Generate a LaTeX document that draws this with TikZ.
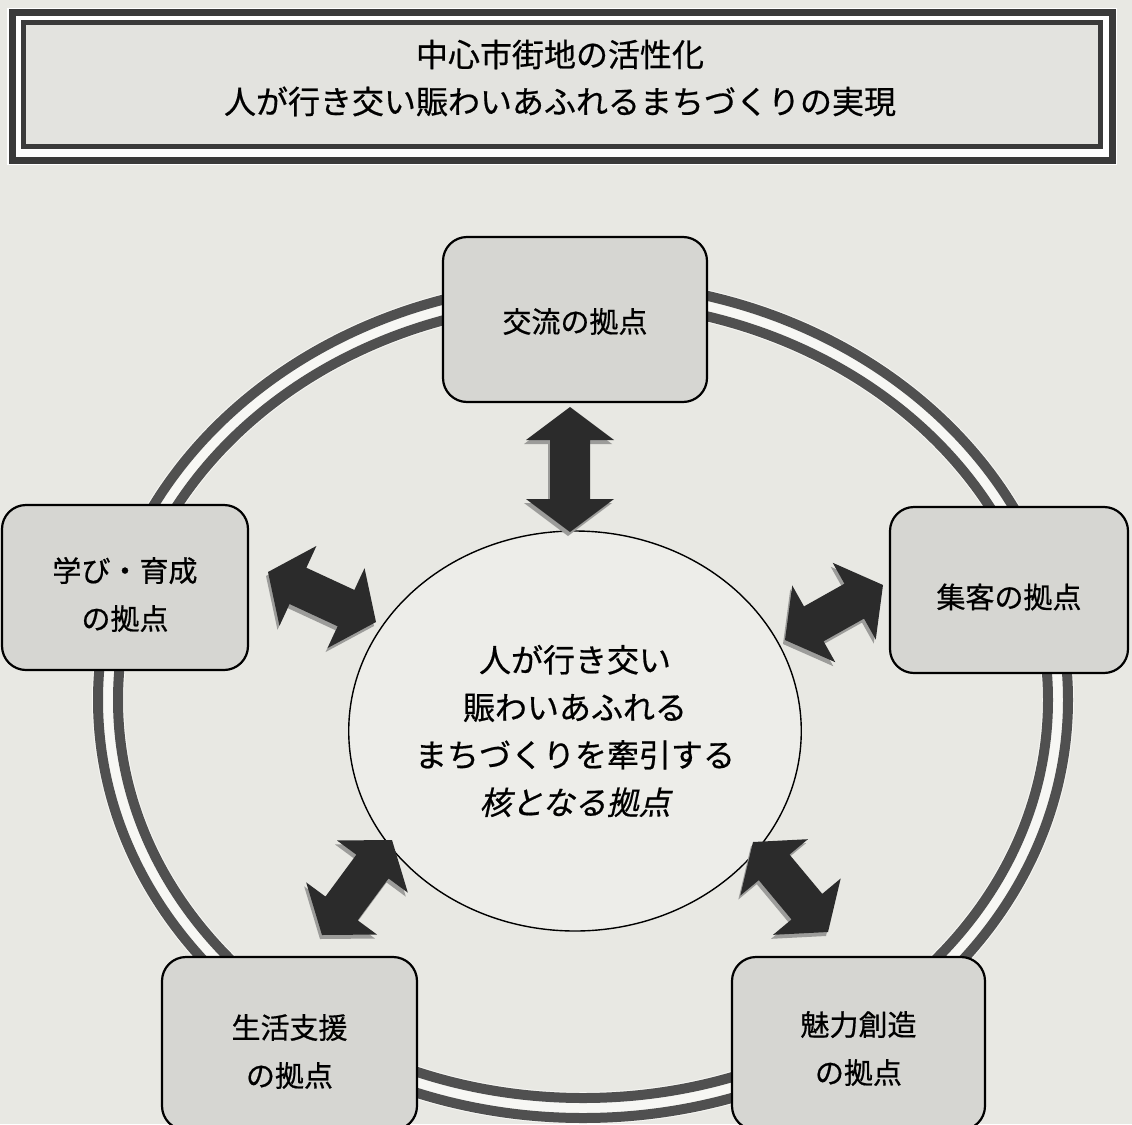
\documentclass[tikz,border=0pt]{standalone}
\usepackage{fontspec}
\newfontfamily\jp{Noto Sans CJK JP}[FakeBold=0.6]
\newfontfamily\jpit{Noto Sans CJK JP}[FakeSlant=0.22,FakeBold=0.6]
\usetikzlibrary{calc,shapes.geometric}
\definecolor{bg}{HTML}{E8E8E3}
\definecolor{boxfill}{HTML}{D6D6D2}
\definecolor{titlefill}{HTML}{E3E3DF}
\definecolor{ringgray}{HTML}{505050}
\definecolor{halo}{HTML}{F7F7F4}
\definecolor{arrowdark}{HTML}{2B2B2B}
\definecolor{shadowgray}{HTML}{9C9C9A}
\definecolor{framegray}{HTML}{3A3A3A}
\definecolor{ellfill}{HTML}{EDEDE9}
\tikzset{
  box/.style={draw=black, line width=2.2pt, fill=boxfill, rounded corners=24pt, inner sep=0pt},
  boxtext/.style={align=center, inner sep=0pt, font=\jp\fontsize{29pt}{48pt}\selectfont},
  core/.style={draw=black, line width=1.4pt, fill=ellfill, ellipse, inner sep=0pt,
    align=center, font=\jp\fontsize{32pt}{47.5pt}\selectfont},
  titletext/.style={align=center, inner sep=0pt, font=\jp\fontsize{32pt}{47pt}\selectfont},
  ringline/.style={draw=ringgray, line width=10pt},
  blockarrow/.style={fill=arrowdark,
    preaction={fill=shadowgray, transform canvas={shift={(-2pt,-4pt)}}},
    to path={
      ($(\tikztostart)!33pt!(\tikztotarget)$) coordinate (ha)
      ($(\tikztotarget)!33pt!(\tikztostart)$) coordinate (hb)
      (\tikztostart)
      -- ($(ha)!44pt!90:(\tikztotarget)$)
      -- ($(ha)!20pt!90:(\tikztotarget)$)
      -- ($(hb)!20pt!-90:(\tikztostart)$)
      -- ($(hb)!44pt!-90:(\tikztostart)$)
      -- (\tikztotarget)
      -- ($(hb)!44pt!90:(\tikztostart)$)
      -- ($(hb)!20pt!90:(\tikztostart)$)
      -- ($(ha)!20pt!-90:(\tikztotarget)$)
      -- ($(ha)!44pt!-90:(\tikztotarget)$)
      -- cycle}}
}
\begin{document}
\begin{tikzpicture}[x=1pt,y=-1pt]
\useasboundingbox (0,0) rectangle (1132,1124);
\clip (0,0) rectangle (1132,1124);
\fill[bg] (0,0) rectangle (1132,1124);

% title box
\fill[white] (7,8) rectangle (1117,165);
\draw[draw=framegray, line width=7pt] (12,12.5) rectangle (1112,160);
\draw[draw=framegray, line width=5pt, fill=titlefill] (23,23) rectangle (1100,146.5);
\node[titletext] (title) at (560,78) {中心市街地の活性化\\人が行き交い賑わいあふれるまちづくりの実現};

% ring
\draw[draw=halo, line width=32pt] (583,700) ellipse [x radius=475pt, y radius=408pt];
\draw[ringline] (583,700) ellipse [x radius=485pt, y radius=418pt];
\draw[ringline] (583,700) ellipse [x radius=465pt, y radius=398pt];

% boxes
\node[box, minimum width=264pt, minimum height=165pt,
  label={[boxtext, yshift=-2pt]center:交流の拠点}] (koryu) at (575,319.5) {};
\node[box, minimum width=246pt, minimum height=165pt,
  label={[boxtext, yshift=-7pt]center:学び・育成\\の拠点}] (manabi) at (125,587.5) {};
\node[box, minimum width=238pt, minimum height=166pt,
  label={[boxtext, yshift=-7pt]center:集客の拠点}] (shukyaku) at (1009,590) {};
\node[box, minimum width=255pt, minimum height=173pt,
  label={[boxtext, yshift=-8pt]center:生活支援\\の拠点}] (seikatsu) at (289.5,1043.5) {};
\node[box, minimum width=253pt, minimum height=173pt,
  label={[boxtext, yshift=-5pt]center:魅力創造\\の拠点}] (miryoku) at (858.5,1043.5) {};

% core
\node[core, minimum width=424pt, minimum height=400pt] (core) at (575,731)
  {人が行き交い\\賑わいあふれる\\まちづくりを牽引する\\{\jpit 核となる拠点}};

% arrow ends
\coordinate (t1) at (570,407);  \coordinate (t2) at (570,532);
\coordinate (l1) at (268,572);  \coordinate (l2) at (376,622);
\coordinate (r1) at (785,640);  \coordinate (r2) at (883,585);
\coordinate (bl1) at (322,935); \coordinate (bl2) at (392,840);
\coordinate (br1) at (753,842); \coordinate (br2) at (828,932);

\path[blockarrow] (t1) to (t2);
\path[blockarrow] (l1) to (l2);
\path[blockarrow] (r1) to (r2);
\path[blockarrow] (bl1) to (bl2);
\path[blockarrow] (br1) to (br2);
\end{tikzpicture}
\end{document}
